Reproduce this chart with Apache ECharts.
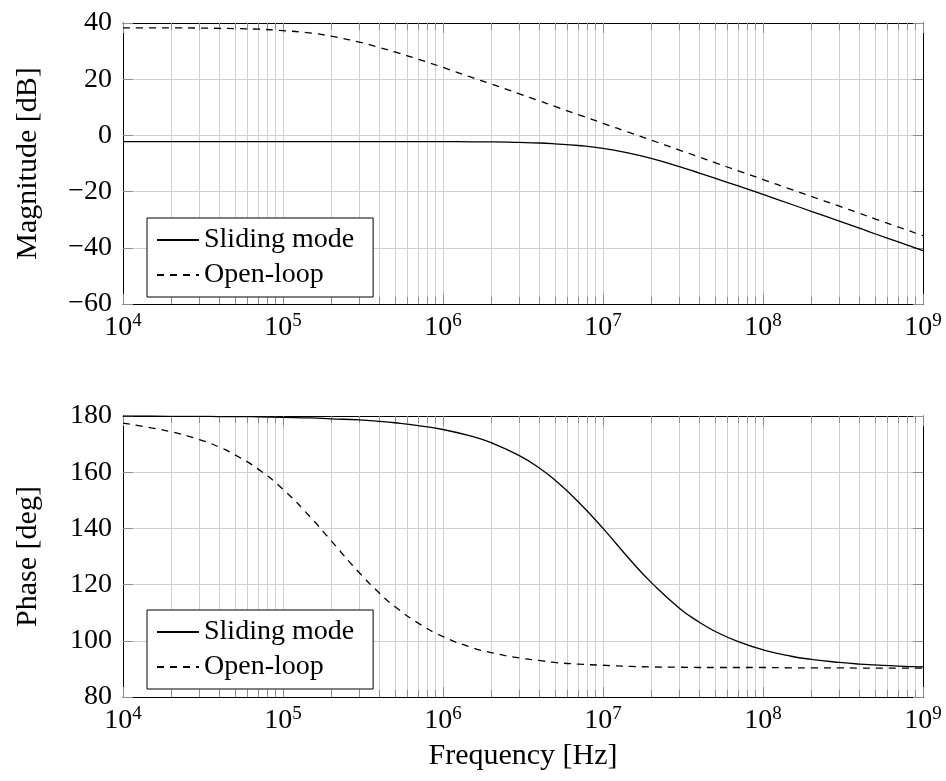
<!DOCTYPE html>
<html><head><meta charset="utf-8">
<script src="https://cdn.jsdelivr.net/npm/echarts@6/dist/echarts.min.js"></script>
<style>html,body{margin:0;padding:0;background:#fff}#c{width:946px;height:781px}</style>
</head><body><div id="c"></div>
<script>
// ---- data ----
const freq = [
  1e4,1.5e4,2e4,3e4,4e4,5e4,7e4,
  1e5,1.5e5,2e5,3e5,4e5,5e5,7e5,
  1e6,1.5e6,2e6,3e6,4e6,5e6,7e6,
  1e7,1.5e7,2e7,3e7,4e7,5e7,7e7,
  1e8,1.5e8,2e8,3e8,4e8,5e8,7e8,
  1e9];
const magSliding = [
  -2.2,-2.2,-2.2,-2.2,-2.2,-2.2,-2.2,
  -2.2,-2.2,-2.2,-2.2,-2.2,-2.2,-2.2,
  -2.2,-2.3,-2.3,-2.5,-2.7,-3.0,-3.6,
  -4.6,-6.5,-8.2,-11.1,-13.4,-15.2,-18.0,
  -21.0,-24.5,-27.0,-30.5,-33.0,-35.0,-37.9,
  -41.0];
const magOpen = [
  38.3,38.3,38.3,38.2,38.1,38.0,37.8,
  37.3,36.4,35.3,33.2,31.3,29.7,27.1,
  24.2,20.7,18.3,14.8,12.3,10.3,7.4,
  4.3,0.8,-1.7,-5.2,-7.7,-9.7,-12.6,
  -15.7,-19.2,-21.7,-25.2,-27.7,-29.7,-32.6,
  -35.7];
const phaseSliding = [
  180.0,180.0,179.9,179.9,179.8,179.8,179.7,
  179.5,179.3,179.0,178.6,178.1,177.6,176.6,
  175.2,172.8,170.5,165.9,161.5,157.2,149.5,
  140.0,128.4,120.8,111.6,106.6,103.4,99.7,
  96.8,94.5,93.4,92.3,91.7,91.4,91.0,
  90.7];
const phaseOpen = [
  177.5,175.8,174.4,171.6,168.9,166.2,161.1,
  153.9,143.7,135.6,124.2,117.0,112.2,106.3,
  101.5,97.7,95.8,93.9,93.0,92.3,91.7,
  91.3,90.9,90.7,90.6,90.5,90.5,90.5,
  90.5,90.4,90.4,90.4,90.3,90.3,90.3,
  90.3];
const seriesNames = ['Sliding mode', 'Open-loop'];
const xMin = 1e4, xMax = 1e9;
const magTicks = {min: -60, max: 40, interval: 20};
const phaseTicks = {min: 80, max: 180, interval: 20};
const yNames = ['Magnitude [dB]', 'Phase [deg]'];
const xName = 'Frequency [Hz]';

// ---- axis decoration ----
const majorTicks = [];
for (let k = 4; k <= 9; k++) majorTicks.push(Math.pow(10, k));
const allTicks = [];
for (let k = 4; k <= 8; k++) for (let m = 1; m <= 9; m++) allTicks.push(m * Math.pow(10, k));
allTicks.push(1e9);

const FONT = 'Liberation Serif';
const FS = 28;
const FS_NAME = 30;
const TICK = '#8c8c8c';
const GRID = '#cfcfcf';

function pair(xs, ys) { return xs.map((x, i) => [x, ys[i]]); }

function xAxesFor(g, withLabels, withName) {
  const base = {gridIndex: g, type: 'log', logBase: 10, min: xMin, max: xMax};
  return [
    Object.assign({}, base, {
      position: 'bottom',
      axisLine: {show: true, onZero: false, lineStyle: {color: '#000', width: 1}},
      axisTick: {show: true, inside: true, length: 7, customValues: allTicks, lineStyle: {color: TICK, width: 1}},
      splitLine: {show: true, lineStyle: {color: GRID, width: 1}},
      axisLabel: {show: false},
      name: withName ? xName : '', nameLocation: 'middle', nameGap: 44,
      nameTextStyle: {fontFamily: FONT, fontSize: FS_NAME, color: '#000'}
    }),
    Object.assign({}, base, {
      position: 'top',
      axisLine: {show: true, onZero: false, lineStyle: {color: '#000', width: 1}},
      axisTick: {show: true, inside: true, length: 7, customValues: allTicks, lineStyle: {color: TICK, width: 1}},
      splitLine: {show: false}, axisLabel: {show: false}
    }),
    Object.assign({}, base, {
      position: 'bottom',
      axisLine: {show: false, onZero: false},
      axisTick: {show: true, inside: true, length: 10, customValues: majorTicks, lineStyle: {color: TICK, width: 1}},
      splitLine: {show: false},
      axisLabel: {
        show: withLabels, customValues: majorTicks, margin: 8,
        formatter: v => '{b|10}{s|' + Math.round(Math.log10(v)) + '}',
        rich: {
          b: {fontFamily: FONT, fontSize: FS, color: '#000', lineHeight: 32},
          s: {fontFamily: FONT, fontSize: 19, color: '#000', lineHeight: 18, verticalAlign: 'top'}
        }
      }
    }),
    Object.assign({}, base, {
      position: 'top',
      axisLine: {show: false, onZero: false},
      axisTick: {show: true, inside: true, length: 10, customValues: majorTicks, lineStyle: {color: TICK, width: 1}},
      splitLine: {show: false}, axisLabel: {show: false}
    })
  ];
}

function yAxesFor(g, t, name) {
  const base = {gridIndex: g, type: 'value', min: t.min, max: t.max, interval: t.interval};
  return [
    Object.assign({}, base, {
      position: 'left',
      axisLine: {show: true, onZero: false, lineStyle: {color: '#000', width: 1}},
      axisTick: {show: true, inside: true, length: 10, lineStyle: {color: TICK, width: 1}},
      splitLine: {show: true, lineStyle: {color: GRID, width: 1}},
      axisLabel: {
        margin: 11, fontFamily: FONT, fontSize: FS, color: '#000',
        formatter: v => (v < 0 ? '\u2212' + Math.abs(v) : String(v))
      },
      name: name, nameLocation: 'middle', nameGap: 80, nameRotate: 90,
      nameTextStyle: {fontFamily: FONT, fontSize: FS_NAME, color: '#000'}
    }),
    Object.assign({}, base, {
      position: 'right',
      axisLine: {show: true, onZero: false, lineStyle: {color: '#000', width: 1}},
      axisTick: {show: true, inside: true, length: 10, lineStyle: {color: TICK, width: 1}},
      splitLine: {show: false}, axisLabel: {show: false}
    })
  ];
}

function lineSeries(name, xi, yi, data, dashed) {
  return {
    name: name, type: 'line', xAxisIndex: xi, yAxisIndex: yi,
    data: data, showSymbol: false, symbol: 'none', smooth: 0.5,
    lineStyle: {color: '#000', width: 1.3, type: dashed ? [7, 6] : 'solid'},
    itemStyle: {color: '#000'},
    emphasis: {disabled: true}, silent: true, animation: false
  };
}

function legendAt(top) {
  return {
    show: true, orient: 'vertical', left: 147, top: top,
    data: seriesNames, selectedMode: false,
    backgroundColor: '#fff', borderColor: '#000', borderWidth: 1, borderRadius: 0,
    padding: [8, 19, 8, 9], itemWidth: 42, itemHeight: 14, itemGap: 7,
    itemStyle: {opacity: 0, color: 'rgba(0,0,0,0)', borderWidth: 0},
    textStyle: {fontFamily: FONT, fontSize: FS, color: '#000', lineHeight: 26}
  };
}

const chart = echarts.init(document.getElementById('c'), null, {renderer: 'canvas'});
chart.setOption({
  animation: false,
  backgroundColor: '#fff',
  grid: [
    {left: 123, right: 23, top: 23, height: 281, outerBoundsMode: 'none'},
    {left: 123, right: 23, top: 416, height: 281, outerBoundsMode: 'none'}
  ],
  xAxis: [].concat(xAxesFor(0, true, false), xAxesFor(1, true, true)),
  yAxis: [].concat(yAxesFor(0, magTicks, yNames[0]), yAxesFor(1, phaseTicks, yNames[1])),
  legend: [legendAt(218), legendAt(610)],
  series: [
    lineSeries(seriesNames[0], 0, 0, pair(freq, magSliding), false),
    lineSeries(seriesNames[1], 0, 0, pair(freq, magOpen), true),
    lineSeries(seriesNames[0], 4, 2, pair(freq, phaseSliding), false),
    lineSeries(seriesNames[1], 4, 2, pair(freq, phaseOpen), true)
  ]
});
</script>
</body></html>
